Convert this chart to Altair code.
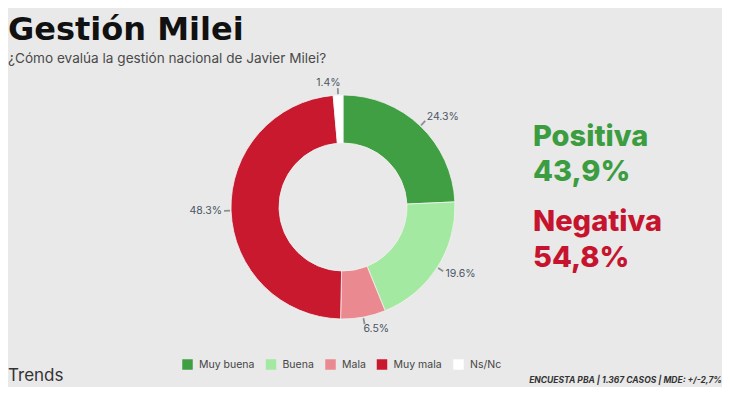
import altair as alt
import pandas as pd

categories = ["Muy buena", "Buena", "Mala", "Muy mala", "Ns/Nc"]
values = [24.3, 19.6, 6.5, 48.3, 1.4]
labels = ["24.3%", "19.6%", "6.5%", "48.3%", "1.4%"]
colors = ["#3f9f42", "#a4e9a1", "#ea8a90", "#c8192e", "#ffffff"]

title_text = "Gestión Milei"
subtitle_text = "¿Cómo evalúa la gestión nacional de Javier Milei?"
pos_label, pos_value = "Positiva", "43,9%"
neg_label, neg_value = "Negativa", "54,8%"
brand = "Trends"
footer = "ENCUESTA PBA | 1.367 CASOS | MDE: +/-2,7%"

df = pd.DataFrame({"cat": categories, "value": values, "label": labels,
                   "order": list(range(len(categories)))})
total = sum(values)

W, H = 714, 379
CX, CY = 335, 199
FONT = "Inter"

base = alt.Chart(df).transform_window(
    cum="sum(value)", sort=[alt.SortField("order")], frame=[None, 0]
).transform_calculate(
    start="datum.cum - datum.value",
    mid="datum.cum - datum.value / 2",
    lo="datum.cum - datum.value / 2 - 0.12",
    hi="datum.cum - datum.value / 2 + 0.12",
)
tscale = alt.Scale(domain=[0, total])

arcs = base.mark_arc(radius=112, radius2=64, stroke="#f2f2f2", strokeWidth=0.8).encode(
    theta=alt.Theta("start:Q", scale=tscale, stack=False),
    theta2="cum:Q",
    color=alt.Color(
        "cat:N",
        scale=alt.Scale(domain=categories, range=colors),
        legend=alt.Legend(
            title=None, orient="none", legendX=174, legendY=351,
            direction="horizontal", symbolType="square", symbolSize=110,
            symbolStrokeWidth=0, labelFontSize=10.5, labelColor="#444444",
            labelFont=FONT, columnPadding=10.5, labelOffset=6, padding=0,
        ),
    ),
    x=alt.value(CX), y=alt.value(CY),
)

ticks = base.mark_arc(radius=119, radius2=113, color="#8a8f96").encode(
    theta=alt.Theta("lo:Q", scale=tscale, stack=False),
    theta2="hi:Q",
    x=alt.value(CX), y=alt.value(CY),
)

pct_right = base.transform_filter(f"datum.mid < {total / 2}").mark_text(
    radius=124, align="left", baseline="middle", dx=-2,
    fontSize=10.5, color="#4a5563", font=FONT,
).encode(
    theta=alt.Theta("mid:Q", scale=tscale, stack=False),
    text="label:N",
    x=alt.value(CX), y=alt.value(CY),
)

pct_left = base.transform_filter(f"datum.mid >= {total / 2}").mark_text(
    radius=124, align="right", baseline="middle", dx=3,
    fontSize=10.5, color="#4a5563", font=FONT,
).encode(
    theta=alt.Theta("mid:Q", scale=tscale, stack=False),
    text="label:N",
    x=alt.value(CX), y=alt.value(CY),
)


def txt(s, x, y, size, color, weight="normal", align="left", style="normal", font=FONT):
    return alt.Chart(pd.DataFrame({"t": [s]})).mark_text(
        align=align, baseline="alphabetic", fontSize=size, fontWeight=weight,
        color=color, font=font, fontStyle=style,
    ).encode(x=alt.value(x), y=alt.value(y), text="t:N")


texts = [
    txt(title_text, 0, 32, 32, "#111111", "bold", font="DejaVu Sans"),
    txt(subtitle_text, 0, 55, 13.6, "#4a4a4a"),
    txt(pos_label, 525, 138, 29, "#3b9d3f", 800),
    txt(pos_value, 525, 173, 29, "#3b9d3f", 800),
    txt(neg_label, 525, 223, 29, "#c6142f", 800),
    txt(neg_value, 525, 259, 29, "#c6142f", 800),
    txt(brand, 0, 373, 17, "#333333"),
    txt(footer, 714, 375, 8.5, "#333333", "bold", "right", "italic"),
]

chart = alt.layer(arcs, ticks, pct_right, pct_left, *texts).properties(
    width=W, height=H,
    autosize=alt.AutoSizeParams(type="none"),
    padding=0,
    background="#e9e9e9",
).configure_view(strokeWidth=0)

chart.save("out.html", embed_options={"renderer": "svg", "actions": False})
